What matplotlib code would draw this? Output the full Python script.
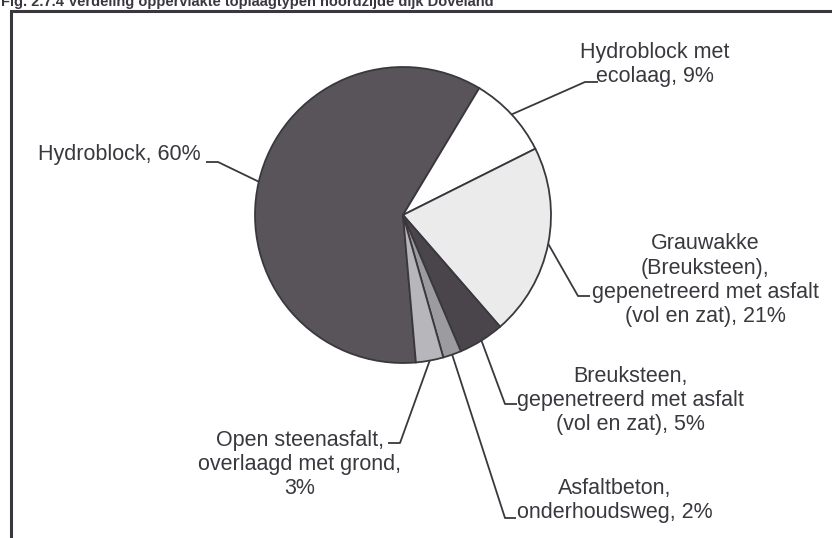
import matplotlib
matplotlib.use("Agg")
import numpy as np
import matplotlib.pyplot as plt

# Verdeling toplaagtypen (percentages)
categories = ["Hydroblock",
              "Hydroblock met\necolaag",
              "Grauwakke\n(Breuksteen),\ngepenetreerd met asfalt\n(vol en zat)",
              "Breuksteen,\ngepenetreerd met asfalt\n(vol en zat)",
              "Asfaltbeton,\nonderhoudsweg",
              "Open steenasfalt,\noverlaagd met grond"]
shares = [60, 9, 21, 5, 2, 3]
title = "Fig. 2.7.4 Verdeling oppervlakte toplaagtypen noordzijde dijk Doveland"

colors = ["#58545a", "#ffffff", "#ebebeb", "#4a454b", "#9c9b9f", "#b7b6ba"]
ink = "#3a383e"

W, H = 832, 538
def P(x, y):
    # pixel (top-left origin) -> data coords
    return x, H - y

# label layout: text anchor (pixel, baseline of last line), separator,
# leader elbow + tick end (pixel)
layout = [
    dict(xy=(119, 160), sep=", ", path=[(218, 162), (206, 162)]),
    dict(xy=(655, 82), sep=", ", path=[(585, 82), (598, 82)]),
    dict(xy=(705, 322), sep=", ", path=[(578, 296), (590, 296)]),
    dict(xy=(630, 430), sep=", ", path=[(505, 404), (517, 404)]),
    dict(xy=(615, 518), sep=", ", path=[(505, 518), (516, 518)]),
    dict(xy=(300, 494), sep=",\n", path=[(400, 443), (388, 443)]),
]

fig = plt.figure(figsize=(W / 100, H / 100), dpi=100)
ax = fig.add_axes([0, 0, 1, 1])

cx, cy = P(403, 215)
r = 148
wedges, _ = ax.pie(shares, colors=colors, startangle=275, counterclock=False,
                   center=(cx, cy), radius=r, frame=True,
                   wedgeprops=dict(edgecolor=ink, linewidth=1.3))
ax.set_xlim(0, W)
ax.set_ylim(0, H)
ax.set_aspect('equal')
ax.axis('off')

for w, name, pct, lay in zip(wedges, categories, shares, layout):
    mid = np.deg2rad((w.theta1 + w.theta2) / 2.0)
    ax_, ay_ = cx + r * np.cos(mid), cy + r * np.sin(mid)
    pts = [(ax_, ay_)] + [P(*p) for p in lay['path']]
    xs, ys = zip(*pts)
    ax.plot(xs, ys, color=ink, lw=1.3, solid_capstyle='butt')
    tx, ty = P(*lay['xy'])
    ax.text(tx, ty, f"{name}{lay['sep']}{pct}%", ha='center', va='baseline',
            multialignment='center', fontsize=15.5, color=ink,
            family='Liberation Sans', linespacing=1.2)

# frame around the chart
ax.plot(*zip(P(11, H), P(11, 11), P(W, 11)), color=ink, lw=2.2,
        solid_joinstyle='miter')
tx, ty = P(1, 6)
ax.text(tx, ty, title, ha='left', va='baseline', fontsize=10.5,
        fontweight='bold', color=ink, family='Liberation Sans')

fig.savefig("out.png", dpi=100, facecolor='white')
